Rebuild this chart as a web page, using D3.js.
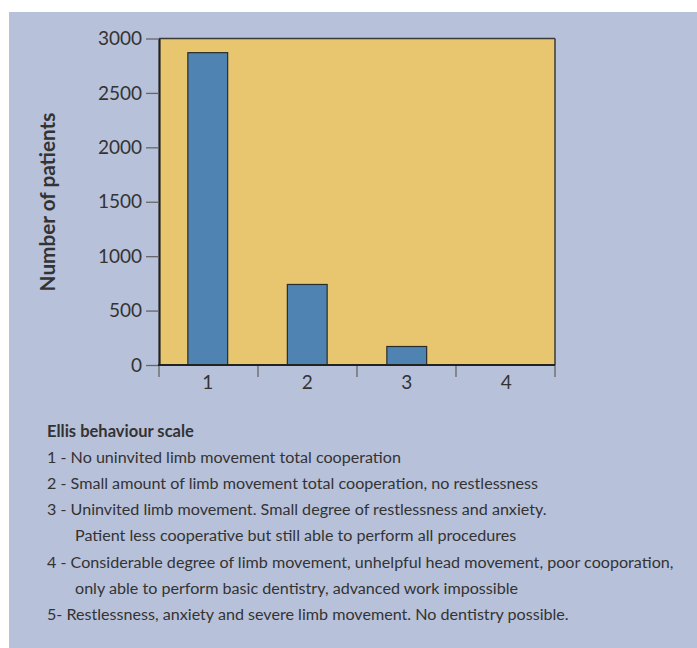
<!DOCTYPE html>
<html>
<head>
<meta charset="utf-8">
<script src="https://cdn.jsdelivr.net/npm/d3@7"></script>
<style>
  html, body { margin: 0; padding: 0; background: #ffffff; }
  svg { display: block; }
</style>
</head>
<body>
<svg id="chart" width="697" height="648"></svg>
<script>
// ---- data ----
const categories = ["1", "2", "3", "4"];
const patients = [2870, 740, 170, 0];
const yTicks = [0, 500, 1000, 1500, 2000, 2500, 3000];
const yTitle = "Number of patients";
const legendTitle = "Ellis behaviour scale";
const legendLines = [
  { text: "1 - No uninvited limb movement total cooperation", indent: false },
  { text: "2 - Small amount of limb movement total cooperation, no restlessness", indent: false },
  { text: "3 - Uninvited limb movement. Small degree of restlessness and anxiety.", indent: false },
  { text: "Patient less cooperative but still able to perform all procedures", indent: true },
  { text: "4 - Considerable degree of limb movement, unhelpful head movement, poor cooporation,", indent: false },
  { text: "only able to perform basic dentistry, advanced work impossible", indent: true },
  { text: "5- Restlessness, anxiety and severe limb movement. No dentistry possible.", indent: false }
];

// ---- layout ----
const svg = d3.select("#chart");
const W = 697, H = 648;
const plot = { left: 159, right: 555, top: 38.5, bottom: 365 };
const FONT = "Lato, 'Open Sans', sans-serif";
const textColor = "#333333";

// panel background
svg.append("rect").attr("x", 9).attr("y", 12).attr("width", W - 9).attr("height", H - 12)
  .attr("fill", "#b8c1da");

const x = d3.scaleBand().domain(categories).range([plot.left, plot.right])
  .paddingInner(0.6).paddingOuter(0.29).align(0.5);
const y = d3.scaleLinear().domain([0, 3000]).range([plot.bottom, plot.top]);

// plot fill
svg.append("rect")
  .attr("x", plot.left).attr("y", plot.top)
  .attr("width", plot.right - plot.left).attr("height", plot.bottom - plot.top)
  .attr("fill", "#e8c670");

// bars
svg.append("g").selectAll("rect").data(patients).join("rect")
  .attr("x", (d, i) => x(categories[i]))
  .attr("y", d => y(d))
  .attr("width", x.bandwidth())
  .attr("height", d => y(0) - y(d))
  .attr("fill", "#4f83b2")
  .attr("stroke", "#2b2b2b")
  .attr("stroke-width", 1.2);

// frame: top & right thinner, left & bottom thicker
svg.append("line").attr("x1", plot.left).attr("x2", plot.right).attr("y1", plot.top).attr("y2", plot.top)
  .attr("stroke", "#3a3a3a").attr("stroke-width", 1.5);
svg.append("line").attr("x1", plot.right).attr("x2", plot.right).attr("y1", plot.top).attr("y2", plot.bottom)
  .attr("stroke", "#3a3a3a").attr("stroke-width", 1.5);

// y axis
const yAxis = d3.axisLeft(y).tickValues(yTicks).tickFormat(d3.format("d"))
  .tickSize(13).tickPadding(4).tickSizeOuter(0);
const gy = svg.append("g").attr("transform", `translate(${plot.left},0)`).call(yAxis);
gy.select(".domain").attr("stroke", "#222").attr("stroke-width", 2.2);
gy.selectAll(".tick line").attr("stroke", "#666").attr("stroke-width", 1.3);
gy.selectAll(".tick text").attr("fill", textColor).attr("font-family", FONT).attr("font-size", 19);

// x axis: labels at band centres, ticks at category boundaries
const gx = svg.append("g").attr("transform", `translate(0,${plot.bottom})`)
  .call(d3.axisBottom(x).tickSize(0).tickPadding(11).tickSizeOuter(0));
gx.select(".domain").remove();
gx.selectAll(".tick text").attr("fill", textColor).attr("font-family", FONT).attr("font-size", 19)
  .attr("dy", "0.71em");
const step = (plot.right - plot.left) / categories.length;
const boundaries = d3.range(categories.length + 1).map(i => plot.left + i * step);
svg.append("g").selectAll("line").data(boundaries).join("line")
  .attr("x1", d => d).attr("x2", d => d)
  .attr("y1", plot.bottom).attr("y2", plot.bottom + 12)
  .attr("stroke", "#666").attr("stroke-width", 1.3);
svg.append("line").attr("x1", plot.left - 1).attr("x2", plot.right).attr("y1", plot.bottom).attr("y2", plot.bottom)
  .attr("stroke", "#222").attr("stroke-width", 2.2);

// y title
const yt = svg.append("text")
  .attr("transform", `translate(55,202) rotate(-90)`)
  .attr("text-anchor", "middle")
  .attr("font-family", FONT).attr("font-weight", 700).attr("font-size", 17)
  .attr("fill", textColor)
  .text(yTitle);
{
  const w = yt.node().getComputedTextLength();
  yt.attr("font-size", 17 * 179 / w);
}

// legend block
const lx = 47, indentX = 75, baseY = 437, lineH = 26.1;
const lt = svg.append("text").attr("x", lx).attr("y", baseY)
  .attr("font-family", FONT).attr("font-weight", 700).attr("font-size", 15)
  .attr("fill", textColor).text(legendTitle);
{
  const w = lt.node().getComputedTextLength();
  lt.attr("font-size", 15 * 147 / w);
}
const lines = svg.append("g").selectAll("text").data(legendLines).join("text")
  .attr("x", d => d.indent ? indentX : lx)
  .attr("y", (d, i) => baseY + (i + 1) * lineH)
  .attr("font-family", FONT).attr("font-size", 16)
  .attr("fill", textColor)
  .text(d => d.text);
{
  const w = lines.nodes()[0].getComputedTextLength();
  lines.attr("font-size", 16 * 354 / w);
}
</script>
</body>
</html>
